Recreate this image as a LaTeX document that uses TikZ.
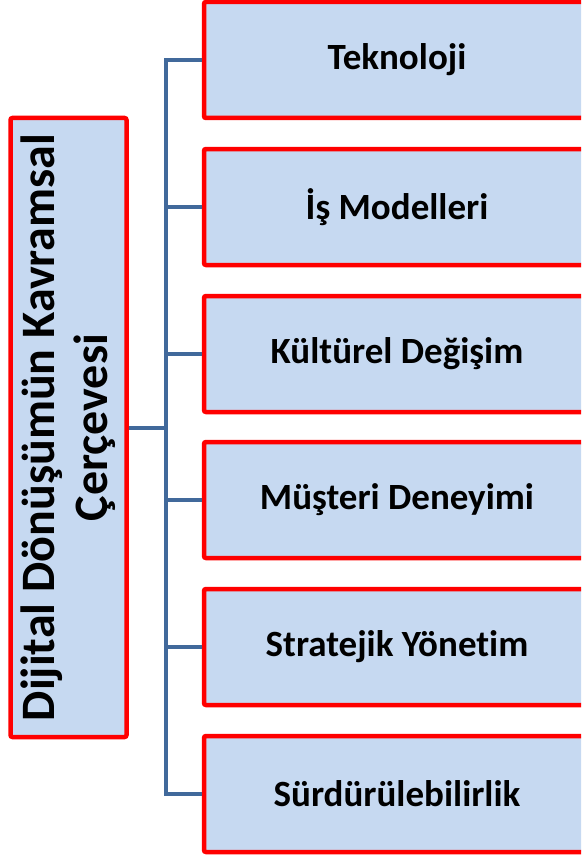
\documentclass[tikz,border=0pt]{standalone}
\usepackage{fontspec}
\setmainfont{Carlito}[Ligatures=NoCommon]
\definecolor{boxfill}{RGB}{198,217,241}
\definecolor{boxline}{RGB}{255,0,0}
\definecolor{conncol}{RGB}{65,105,155}
\tikzset{
  x=1pt, y=1pt,
  itembox/.style={draw=boxline, fill=boxfill, line width=4.5pt, rounded corners=2pt,
    minimum width=386pt, minimum height=116pt, inner sep=0pt,
    font=\fontsize{37}{44}\selectfont\bfseries, text=black},
  mainbox/.style={draw=boxline, fill=boxfill, line width=4.5pt, rounded corners=2pt,
    rotate=90, minimum width=619pt, minimum height=116pt, inner sep=0pt, align=center,
    font=\fontsize{48}{53}\selectfont\bfseries, text=black},
  conn/.style={draw=conncol, line width=4pt}
}
\begin{document}
\begin{tikzpicture}
\useasboundingbox (0,0) rectangle (581,-856);
\clip (0,0) rectangle (581,-856);
\node[mainbox] (L) at (68.5,-427.5) {Dijital Dönüşümün Kavramsal\\Çerçevesi};
\node[itembox] (b1) at (397,-60) {Teknoloji};
\node[itembox] (b2) at (397,-207) {İş Modelleri};
\node[itembox] (b3) at (397,-354) {Kültürel Değişim};
\node[itembox] (b4) at (397,-500) {Müşteri Deneyimi};
\node[itembox] (b5) at (397,-647) {Stratejik Yönetim};
\node[itembox] (b6) at (397,-794) {Sürdürülebilirlik};
\coordinate (bus) at (166,0);
\draw[conn, line cap=rect] (b1.west -| bus) -- (b6.west -| bus);
\draw[conn] (L.south) -- (L.south -| bus);
\foreach \b in {b1,b2,b3,b4,b5,b6} { \draw[conn] (\b.west -| bus) -- (\b.west); }
\end{tikzpicture}
\end{document}
